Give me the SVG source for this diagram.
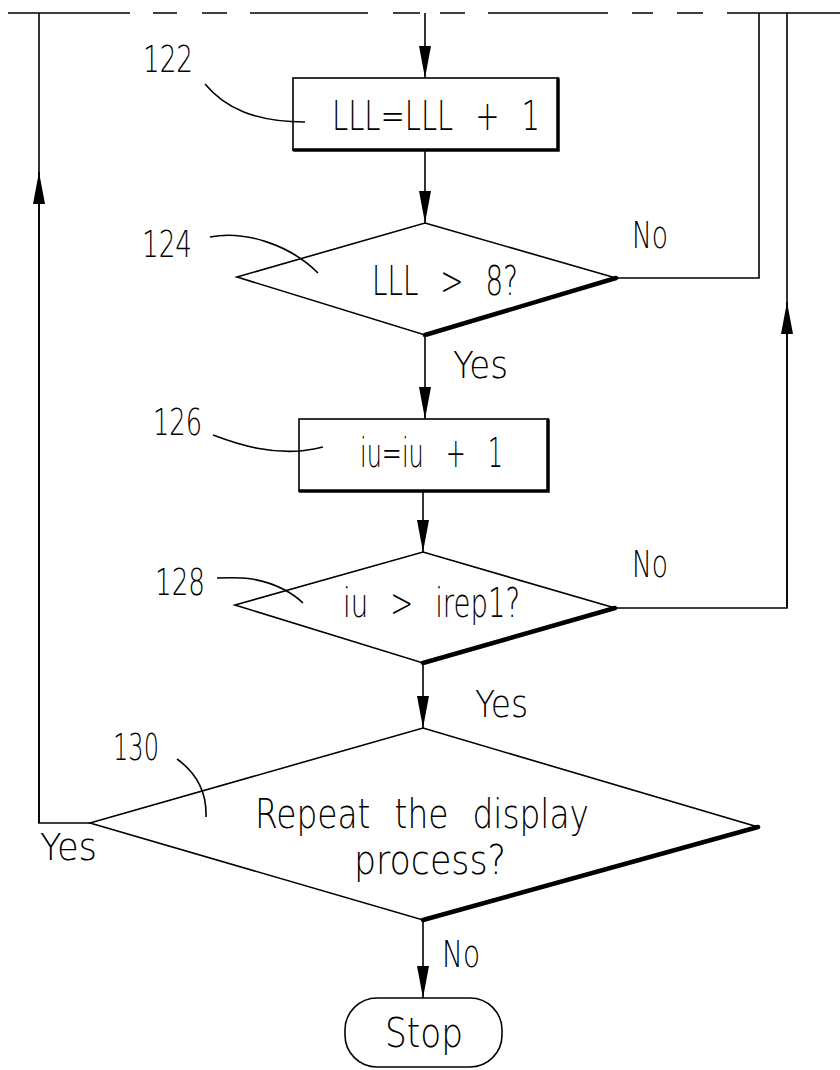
<svg xmlns="http://www.w3.org/2000/svg" width="840" height="1070" viewBox="0 0 840 1070">
<defs>
<style>
.ln{fill:none;stroke:#000;stroke-width:1.6}
.bold{fill:none;stroke:#000;stroke-width:4.5;stroke-linecap:round}
.shp{fill:#fff;stroke:#000;stroke-width:1.6}
.t{font-family:"DejaVu Sans","Liberation Sans",sans-serif;font-weight:200;font-size:40px;fill:#000}
.s{font-family:"DejaVu Sans","Liberation Sans",sans-serif;font-weight:200;font-size:38px;fill:#000}
</style>
<marker id="ah" markerUnits="userSpaceOnUse" viewBox="0 0 32 12" refX="32" refY="6" markerWidth="32" markerHeight="12" orient="auto">
<path d="M0,0 L32,6 L0,12 z" fill="#000"/>
</marker>
</defs>
<rect width="840" height="1070" fill="#fff"/>

<g id="connectors">
<path class="ln" d="M8,13 H130 M153,13 H177 M202,13 H227 M250,13 H368 M393,13 H420 M440,13 H465 M488,13 H608 M632,13 H653 M677,13 H703 M727,13 H840"/>
<path class="ln" d="M425,13 V78" marker-end="url(#ah)"/>
<path class="ln" d="M425,151 V223" marker-end="url(#ah)"/>
<path class="ln" d="M425,335 V419" marker-end="url(#ah)"/>
<path class="ln" d="M423,491 V552" marker-end="url(#ah)"/>
<path class="ln" d="M423,663 V728" marker-end="url(#ah)"/>
<path class="ln" d="M423,920 V998" marker-end="url(#ah)"/>
<path class="ln" d="M616,278 H759 V13"/>
<path class="ln" d="M615,608 H787 V13"/>
<path class="ln" d="M787,608 V302" marker-end="url(#ah)"/>
<path class="ln" d="M90,823 H39 V13"/>
<path class="ln" d="M39,823 V172" marker-end="url(#ah)"/>
<text class="s" x="632" y="248" textLength="36" lengthAdjust="spacingAndGlyphs">No</text>
<text class="s" x="453" y="378" textLength="55" lengthAdjust="spacingAndGlyphs">Yes</text>
<text class="s" x="632" y="577" textLength="36" lengthAdjust="spacingAndGlyphs">No</text>
<text class="s" x="475" y="717" textLength="53" lengthAdjust="spacingAndGlyphs">Yes</text>
<text class="s" x="40" y="860" textLength="57" lengthAdjust="spacingAndGlyphs">Yes</text>
<text class="s" x="442" y="967" textLength="38" lengthAdjust="spacingAndGlyphs">No</text>
</g>

<g id="n122">
<rect class="shp" x="293" y="78" width="265" height="72"/>
<path class="bold" d="M558,79 V150 H294" style="stroke-width:3.5"/>
<text class="t" x="332" y="130" style="word-spacing:17.6px" textLength="208" lengthAdjust="spacingAndGlyphs">LLL=LLL + 1</text>
<text class="s" x="143" y="72" textLength="50" lengthAdjust="spacingAndGlyphs">122</text>
<path class="ln" d="M205,84 C225,108 255,122 305,122"/>
</g>

<g id="n124">
<polygon class="shp" points="425,223 616,278 425,335 237,277"/>
<path class="bold" d="M616,278 L425,335"/>
<text class="t" x="372" y="295" style="word-spacing:19px" textLength="146" lengthAdjust="spacingAndGlyphs">LLL &gt; 8?</text>
<text class="s" x="142" y="257" textLength="50" lengthAdjust="spacingAndGlyphs">124</text>
<path class="ln" d="M210,237 C245,230 290,245 318,273"/>
</g>

<g id="n126">
<rect class="shp" x="299" y="419" width="249" height="72"/>
<path class="bold" d="M548,420 V491 H300" style="stroke-width:3.5"/>
<text class="t" x="360" y="467" style="word-spacing:24px" textLength="143" lengthAdjust="spacingAndGlyphs">iu=iu + 1</text>
<text class="s" x="153" y="435" textLength="49" lengthAdjust="spacingAndGlyphs">126</text>
<path class="ln" d="M213,435 C245,447 270,453 300,451 C310,450 318,448 323,447"/>
</g>

<g id="n128">
<polygon class="shp" points="423,552 615,608 423,663 235,605"/>
<path class="bold" d="M615,608 L423,663"/>
<text class="t" x="343" y="617" style="word-spacing:19.4px" textLength="177" lengthAdjust="spacingAndGlyphs">iu &gt; irep1?</text>
<text class="s" x="155" y="595" textLength="50" lengthAdjust="spacingAndGlyphs">128</text>
<path class="ln" d="M217,578 C240,577 260,577 285,590 C292,594 298,598 303,603"/>
</g>

<g id="n130">
<polygon class="shp" points="423,728 758,827 423,920 90,823"/>
<path class="bold" d="M758,827 L423,920"/>
<text class="t" x="255" y="828" style="word-spacing:16.7px" textLength="334" lengthAdjust="spacingAndGlyphs">Repeat the display</text>
<text class="t" x="354" y="874" textLength="152" lengthAdjust="spacingAndGlyphs">process?</text>
<text class="s" x="113" y="760" textLength="46" lengthAdjust="spacingAndGlyphs">130</text>
<path class="ln" d="M177,759 C195,772 207,790 206,817"/>
</g>

<g id="stop">
<rect class="shp" x="345" y="998" width="157" height="69" rx="32" ry="32"/>
<text class="t" x="385" y="1047" textLength="78" lengthAdjust="spacingAndGlyphs">Stop</text>
</g>
</svg>
